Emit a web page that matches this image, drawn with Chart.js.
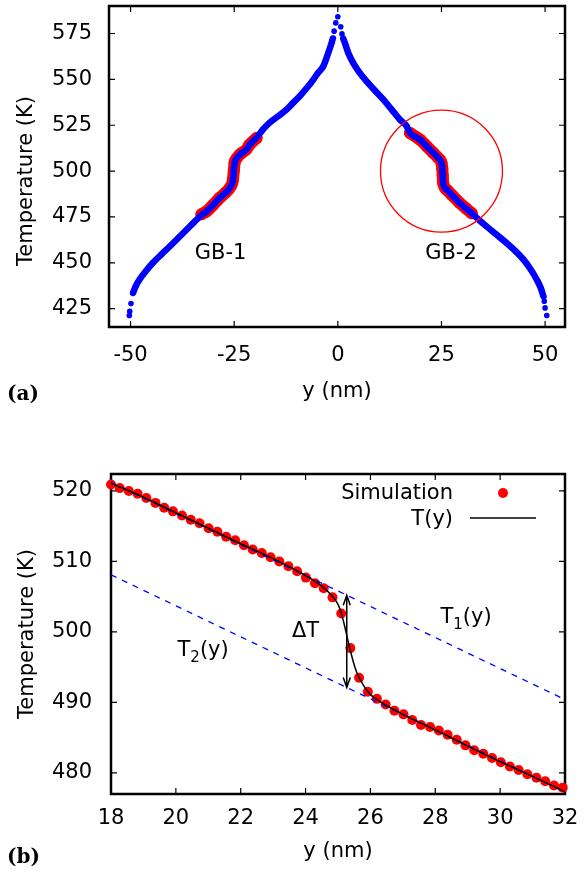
<!DOCTYPE html>
<html>
<head>
<meta charset="utf-8">
<script src="https://cdn.jsdelivr.net/npm/chart.js@4.4.1/dist/chart.umd.min.js"></script>
<style>
  html, body { margin: 0; padding: 0; background: #fff; }
  #wrap { position: relative; width: 585px; height: 877px; }
  canvas { position: absolute; left: 0; }
  #chartA { top: 0; }
  #chartB { top: 430px; }
</style>
</head>
<body>
<div id="wrap">
  <canvas id="chartA" width="585" height="430"></canvas>
  <canvas id="chartB" width="585" height="447"></canvas>
</div>
<script>
// (a) temperature profile across the whole cell
const profLeftY = [-49.4, -48.8, -47.8, -46.3, -44.6, -42.6, -40.5, -38.5, -36.5, -34.6, -32.9, -31.7, -30.1, -28.5, -27.2, -26.1, -25.3, -25.1, -24.9, -24.4, -23.4, -22.1, -21.3, -19.3, -18.1, -16.5, -14.4, -12.4, -10.8, -9.2, -7.6, -5.9, -4.8, -3.5, -2.3, -1.5, -1.2];
const profLeftT = [433.6, 437.0, 441.0, 445.5, 450.0, 454.5, 459.0, 463.5, 468.0, 472.3, 476.0, 478.0, 481.5, 485.4, 488.0, 490.8, 495.3, 500.0, 504.5, 507.0, 509.5, 511.7, 514.4, 519.0, 522.6, 526.3, 529.9, 533.5, 537.2, 540.8, 545.0, 549.9, 553.5, 557.2, 564.5, 569.9, 572.3];
const profRightY = [1.3, 1.7, 2.5, 3.7, 5.2, 6.9, 9.0, 11.0, 13.0, 15.0, 16.6, 17.4, 19.8, 21.5, 23.0, 24.2, 25.0, 25.2, 25.3, 25.4, 26.2, 27.5, 29.4, 31.0, 32.3, 34.0, 35.8, 38.2, 40.7, 42.8, 44.8, 46.5, 48.0, 49.0, 49.6];
const profRightT = [572.2, 569.9, 564.5, 559.0, 553.8, 549.0, 543.8, 539.0, 533.5, 528.0, 524.5, 520.8, 517.2, 513.4, 510.0, 507.2, 504.5, 501.5, 497.6, 493.6, 490.0, 487.0, 482.6, 479.5, 477.0, 473.5, 470.0, 465.5, 460.8, 456.5, 451.7, 446.5, 440.8, 436.0, 431.7];
// sparse samples at the hot centre and the cold ends
const tipY = [-50.3, -50.2, -49.9, -0.9, -0.5, 0.0, 0.7, 1.0, 49.8, 50.0, 50.4];
const tipT = [421.3, 423.5, 427.8, 576.3, 580.8, 584.1, 578.7, 574.8, 429.0, 425.4, 421.3];
// grain boundary regions
const gb1Y = [-32.9, -31.7, -30.1, -28.5, -27.2, -26.1, -25.3, -25.1, -24.9, -24.4, -23.4, -22.1, -21.3, -19.6];
const gb1T = [476.5, 478.0, 481.5, 485.4, 488.0, 490.8, 495.3, 500.0, 504.5, 507.0, 509.5, 511.7, 514.4, 518.0];
const gb2Y = [17.4, 19.8, 21.5, 23.0, 24.2, 25.0, 25.2, 25.3, 25.4, 26.2, 27.5, 29.4, 31.0, 32.3];
const gb2T = [520.8, 517.2, 513.4, 510.0, 507.2, 504.5, 501.5, 497.6, 493.6, 490.0, 487.0, 482.6, 479.5, 477.0];
const ringY = [25];
const ringT = [500];
const xTicksA = [-50, -25, 0, 25, 50];
const yTicksA = [425, 450, 475, 500, 525, 550, 575];

// (b) zoom on GB-2
const simY = [18.00, 18.27, 18.55, 18.82, 19.09, 19.37, 19.64, 19.91, 20.19, 20.46, 20.73, 21.01, 21.28, 21.55, 21.83, 22.10, 22.37, 22.65, 22.92, 23.19, 23.47, 23.74, 24.01, 24.29, 24.56, 24.83, 25.10, 25.38, 25.65, 25.92, 26.20, 26.47, 26.74, 27.02, 27.29, 27.56, 27.84, 28.11, 28.38, 28.66, 28.93, 29.20, 29.48, 29.75, 30.02, 30.30, 30.57, 30.84, 31.12, 31.39, 31.66, 31.93];
const simT = [520.9, 520.4, 520.0, 519.6, 519.0, 518.3, 517.6, 517.1, 516.5, 515.9, 515.4, 514.7, 514.2, 513.5, 513.0, 512.3, 511.7, 511.2, 510.6, 510.0, 509.3, 508.6, 507.7, 506.9, 506.2, 504.9, 502.6, 497.7, 493.5, 491.5, 490.5, 489.7, 488.8, 488.3, 487.5, 486.8, 486.5, 486.0, 485.4, 484.7, 483.9, 483.2, 482.7, 482.1, 481.5, 480.9, 480.4, 479.8, 479.3, 478.8, 478.2, 477.9];
const fitY = [18, 19, 20, 21, 22, 23, 24, 24.5, 24.8, 25.0, 25.1, 25.2, 25.3, 25.4, 25.5, 25.6, 25.8, 26.0, 26.3, 27, 28, 29, 30, 31, 32];
const fitT = [521.1, 519.1, 516.9, 514.7, 512.5, 510.4, 508.0, 506.5, 505.2, 503.9, 502.7, 500.9, 498.9, 497.0, 495.3, 494.0, 492.3, 491.1, 490.1, 488.3, 486.1, 483.8, 481.6, 479.5, 477.3];
const t1Y = [18, 32];
const t1T = [521.2, 490.4];
const t2Y = [18, 32];
const t2T = [508.1, 477.3];
const jumpY = 25.27;
const jumpT = [492.1, 505.2];
const xTicksB = [18, 20, 22, 24, 26, 28, 30, 32];
const yTicksB = [480, 490, 500, 510, 520];

const BLUE = '#0000ff';
const RED = '#ff0000';
const FONT = '"DejaVu Sans", sans-serif';

Chart.defaults.font.family = FONT;
Chart.defaults.font.size = 21;
Chart.defaults.color = '#000';

const pts = (xs, ys) => xs.map((x, i) => ({x: x, y: ys[i]}));

// gnuplot-like box with inward ticks on all four sides
const framePlugin = {
  id: 'frame',
  beforeDatasetsDraw(chart) {
    const {ctx, chartArea: a, scales: {x, y}} = chart;
    ctx.save();
    ctx.strokeStyle = '#000';
    ctx.lineWidth = 1.2;
    ctx.beginPath();
    x.ticks.forEach(t => {
      const px = x.getPixelForValue(t.value);
      ctx.moveTo(px, a.bottom); ctx.lineTo(px, a.bottom - 6);
      ctx.moveTo(px, a.top); ctx.lineTo(px, a.top + 6);
    });
    y.ticks.forEach(t => {
      const py = y.getPixelForValue(t.value);
      ctx.moveTo(a.left, py); ctx.lineTo(a.left + 6, py);
      ctx.moveTo(a.right, py); ctx.lineTo(a.right - 6, py);
    });
    ctx.stroke();
    ctx.lineWidth = 2.5;
    ctx.strokeRect(a.left, a.top, a.right - a.left, a.bottom - a.top);
    ctx.restore();
  }
};

function yTitle(ctx, text, bx, cy) {
  ctx.save();
  ctx.translate(bx, cy);
  ctx.rotate(-Math.PI / 2);
  ctx.font = '21px ' + FONT;
  ctx.textAlign = 'center';
  ctx.textBaseline = 'alphabetic';
  ctx.fillText(text, 0, 0);
  ctx.restore();
}

function panelTag(ctx, text, x, y) {
  ctx.save();
  ctx.font = 'bold 20px "DejaVu Serif", serif';
  ctx.textAlign = 'left';
  ctx.textBaseline = 'alphabetic';
  ctx.fillText(text, x, y);
  ctx.restore();
}

// text with a subscript, centred on (cx, cy)
function subText(ctx, base, sub, tail, cx, cy) {
  const big = '21px ' + FONT, small = '15px ' + FONT;
  ctx.font = big;
  const wb = ctx.measureText(base).width, wt = ctx.measureText(tail).width;
  ctx.font = small;
  const ws = ctx.measureText(sub).width;
  let x = cx - (wb + ws + wt) / 2;
  ctx.textAlign = 'left';
  ctx.textBaseline = 'middle';
  ctx.font = big; ctx.fillText(base, x, cy); x += wb;
  ctx.font = small; ctx.fillText(sub, x, cy + 7); x += ws;
  ctx.font = big; ctx.fillText(tail, x, cy);
}

const notesA = {
  id: 'notesA',
  afterDatasetsDraw(chart) {
    const {ctx, scales: {x, y}} = chart;
    ctx.save();
    ctx.fillStyle = '#000';
    ctx.font = '21px ' + FONT;
    ctx.textAlign = 'center';
    ctx.textBaseline = 'middle';
    ctx.fillText('GB-1', x.getPixelForValue(-28.3), y.getPixelForValue(455));
    ctx.fillText('GB-2', x.getPixelForValue(27.3), y.getPixelForValue(455));
    yTitle(ctx, 'Temperature (K)', 32, 181);
    panelTag(ctx, '(a)', 7, 400);
    ctx.restore();
  }
};

const notesB = {
  id: 'notesB',
  afterDatasetsDraw(chart) {
    const {ctx, scales: {x, y}} = chart;
    ctx.save();
    ctx.fillStyle = '#000';
    ctx.strokeStyle = '#000';

    // double arrow for the temperature jump
    const ax = x.getPixelForValue(jumpY);
    const yLo = y.getPixelForValue(jumpT[0]);
    const yHi = y.getPixelForValue(jumpT[1]);
    ctx.lineWidth = 1.5;
    ctx.beginPath();
    ctx.moveTo(ax, yLo); ctx.lineTo(ax, yHi);
    ctx.moveTo(ax - 3.5, yHi + 10); ctx.lineTo(ax, yHi); ctx.lineTo(ax + 3.5, yHi + 10);
    ctx.moveTo(ax - 3.5, yLo - 10); ctx.lineTo(ax, yLo); ctx.lineTo(ax + 3.5, yLo - 10);
    ctx.stroke();

    ctx.font = '21px ' + FONT;
    ctx.textAlign = 'center';
    ctx.textBaseline = 'middle';
    ctx.fillText('\u0394T', x.getPixelForValue(24.0), y.getPixelForValue(500.0));
    subText(ctx, 'T', '1', '(y)', x.getPixelForValue(28.95), y.getPixelForValue(502.0));
    subText(ctx, 'T', '2', '(y)', x.getPixelForValue(20.84), y.getPixelForValue(497.3));

    // key
    ctx.font = '21px ' + FONT;
    ctx.textAlign = 'right';
    ctx.textBaseline = 'middle';
    ctx.fillText('Simulation', 453, 64);
    ctx.fillText('T(y)', 453, 90);
    ctx.fillStyle = RED;
    ctx.beginPath();
    ctx.arc(503, 63, 5, 0, Math.PI * 2);
    ctx.fill();
    ctx.lineWidth = 1.5;
    ctx.beginPath();
    ctx.moveTo(470, 88); ctx.lineTo(536, 88);
    ctx.stroke();

    ctx.fillStyle = '#000';
    yTitle(ctx, 'Temperature (K)', 33, 204);
    panelTag(ctx, '(b)', 7, 433);
    ctx.restore();
  }
};

function axisX(min, max, ticks, height, pad, titlePad) {
  return {
    type: 'linear', min: min, max: max,
    grid: {display: false, drawTicks: false},
    border: {display: false},
    ticks: {padding: pad, color: '#000'},
    afterBuildTicks: s => { s.ticks = ticks.map(v => ({value: v})); },
    afterFit: s => { s.height = height; s.paddingLeft = 0; s.paddingRight = 0; },
    title: {display: true, text: 'y (nm)', color: '#000', padding: {top: 0, bottom: titlePad}}
  };
}

function axisY(min, max, ticks, width, pad) {
  return {
    type: 'linear', min: min, max: max,
    grid: {display: false, drawTicks: false},
    border: {display: false},
    ticks: {padding: pad, color: '#000'},
    afterBuildTicks: s => { s.ticks = ticks.map(v => ({value: v})); },
    afterFit: s => { s.width = width; s.paddingTop = 0; s.paddingBottom = 0; }
  };
}

const band = (xs, ys) => ({
  data: pts(xs, ys), showLine: true, order: 1, cubicInterpolationMode: 'monotone',
  borderColor: BLUE, borderWidth: 6.5, borderCapStyle: 'round', borderJoinStyle: 'round',
  pointRadius: 2.8, pointBackgroundColor: BLUE, pointBorderWidth: 0
});
const gbBand = (xs, ys) => ({
  data: pts(xs, ys), showLine: true, order: 2, cubicInterpolationMode: 'monotone',
  borderColor: RED, borderWidth: 12, borderCapStyle: 'round', borderJoinStyle: 'round',
  pointRadius: 6, pointBackgroundColor: RED, pointBorderWidth: 0
});

new Chart(document.getElementById('chartA'), {
  type: 'scatter',
  data: {
    datasets: [
      {data: pts(ringY, ringT), order: 0, pointRadius: 61, pointBorderColor: RED,
       pointBackgroundColor: 'rgba(0,0,0,0)', pointBorderWidth: 1.3},
      band(profLeftY, profLeftT),
      band(profRightY, profRightT),
      {data: pts(tipY, tipT), order: 1, pointRadius: 2.8, pointBackgroundColor: BLUE, pointBorderWidth: 0},
      gbBand(gb1Y, gb1T),
      gbBand(gb2Y, gb2T)
    ]
  },
  options: {
    responsive: false, animation: false, events: [],
    layout: {autoPadding: false, padding: {top: 6, right: 20, left: 0, bottom: 0}},
    plugins: {legend: {display: false}, tooltip: {enabled: false}},
    scales: {
      x: axisX(-55.2, 54.8, xTicksA, 103, 16, 26),
      y: axisY(415, 590, yTicksA, 109, 17)
    }
  },
  plugins: [framePlugin, notesA]
});

new Chart(document.getElementById('chartB'), {
  type: 'scatter',
  data: {
    datasets: [
      {data: pts(fitY, fitT), showLine: true, order: 0, borderColor: '#000', borderWidth: 1.5,
       cubicInterpolationMode: 'monotone', pointRadius: 0},
      {data: pts(t1Y, t1T), showLine: true, order: 1, borderColor: BLUE, borderWidth: 1.3,
       borderDash: [6, 6], pointRadius: 0},
      {data: pts(t2Y, t2T), showLine: true, order: 1, borderColor: BLUE, borderWidth: 1.3,
       borderDash: [6, 6], pointRadius: 0},
      {data: pts(simY, simT), order: 2, clip: false, pointRadius: 5,
       pointBackgroundColor: RED, pointBorderWidth: 0}
    ]
  },
  options: {
    responsive: false, animation: false, events: [],
    layout: {autoPadding: false, padding: {top: 44, right: 20, left: 0, bottom: 0}},
    plugins: {legend: {display: false}, tooltip: {enabled: false}},
    scales: {
      x: axisX(18, 32, xTicksB, 83, 12, 13),
      y: axisY(477, 522.4, yTicksB, 111, 19)
    }
  },
  plugins: [framePlugin, notesB]
});
</script>
</body>
</html>
